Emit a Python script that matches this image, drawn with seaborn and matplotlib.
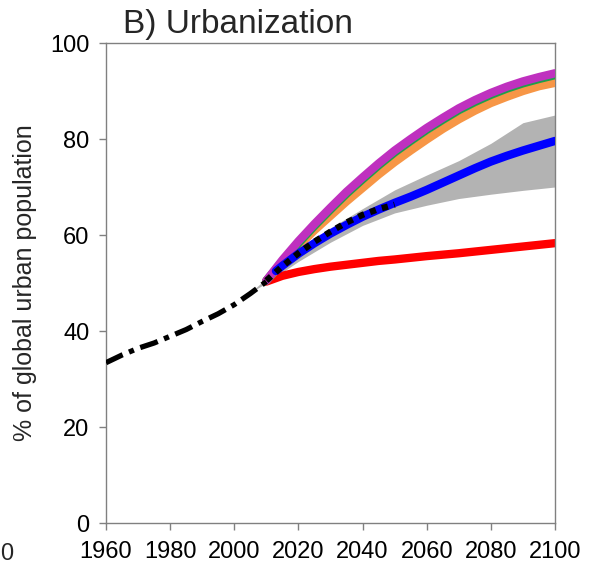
import matplotlib
matplotlib.use("Agg")
import matplotlib.pyplot as plt
import seaborn as sns
import pandas as pd

# ---- data ----
hist_years = [1960, 1965, 1970, 1975, 1980, 1985, 1990, 1995, 2000, 2005, 2010]
hist_vals = [33.4, 35.0, 36.4, 37.5, 38.9, 40.3, 42.0, 43.6, 45.5, 47.8, 50.3]

un_years = [2010, 2015, 2020, 2025, 2030, 2035, 2040, 2045, 2050]
un_vals = [50.5, 53.5, 56.2, 58.6, 60.7, 62.6, 64.2, 65.4, 66.3]

band_years = [2005, 2010, 2020, 2030, 2040, 2050, 2060, 2070, 2080, 2090, 2100]
band_upper = [48.0, 51.0, 56.5, 61.5, 65.5, 69.4, 72.5, 75.5, 79.1, 83.4, 85.0]
band_lower = [48.0, 50.0, 54.5, 58.5, 62.0, 64.6, 66.2, 67.6, 68.5, 69.3, 70.0]

proj_years = [2010, 2015, 2020, 2025, 2030, 2035, 2040, 2045, 2050, 2055,
              2060, 2065, 2070, 2075, 2080, 2085, 2090, 2095, 2100]
red_vals = [50.3, 51.5, 52.3, 52.9, 53.4, 53.8, 54.2, 54.6, 54.9, 55.25,
            55.6, 55.9, 56.2, 56.55, 56.9, 57.25, 57.6, 57.95, 58.3]
orange_vals = [50.5, 54.2, 57.7, 61.0, 64.0, 67.0, 69.8, 72.6, 75.2, 77.6,
               79.9, 82.1, 84.1, 85.9, 87.5, 88.8, 90.0, 91.0, 91.7]
green_vals = [50.5, 54.5, 58.3, 61.9, 65.3, 68.6, 71.6, 74.5, 77.2, 79.6,
              81.9, 84.0, 86.0, 87.7, 89.2, 90.5, 91.6, 92.5, 93.3]
purple_vals = [50.5, 54.8, 58.7, 62.3, 65.7, 69.0, 72.0, 74.9, 77.6, 80.0,
               82.3, 84.4, 86.4, 88.1, 89.6, 90.9, 92.0, 92.9, 93.7]

blue_years = [2013, 2015, 2020, 2025, 2030, 2035, 2040, 2045, 2050, 2055,
              2060, 2065, 2070, 2075, 2080, 2085, 2090, 2095, 2100]
blue_vals = [52.5, 53.6, 56.1, 58.3, 60.3, 62.1, 63.8, 65.3, 66.7, 68.0,
             69.4, 70.9, 72.4, 73.9, 75.3, 76.5, 77.6, 78.6, 79.6]

x_ticks = [1960, 1980, 2000, 2020, 2040, 2060, 2080, 2100]
y_ticks = [0, 20, 40, 60, 80, 100]

# ---- style ----
sns.set_style("white")
plt.rcParams["font.family"] = ["Liberation Sans", "DejaVu Sans"]

fig = plt.figure(figsize=(5.9, 5.65), dpi=100)
ax = fig.add_axes([106 / 590, 1 - 523 / 565, 449 / 590, 480 / 565])

ax.fill_between(band_years, band_lower, band_upper, color="#b3b3b3", linewidth=0, zorder=1)

proj = pd.DataFrame({"year": proj_years, "red": red_vals, "orange": orange_vals,
                     "green": green_vals, "purple": purple_vals})
lw = 6.0
sns.lineplot(data=proj, x="year", y="red", color="#ff0000", linewidth=lw, ax=ax, zorder=2)
sns.lineplot(data=proj, x="year", y="orange", color="#f79646", linewidth=lw, ax=ax, zorder=3)
sns.lineplot(data=proj, x="year", y="green", color="#1f9f4a", linewidth=lw, ax=ax, zorder=4)
sns.lineplot(data=proj, x="year", y="purple", color="#bf30bf", linewidth=lw, ax=ax, zorder=5)

blue = pd.DataFrame({"year": blue_years, "val": blue_vals})
sns.lineplot(data=blue, x="year", y="val", color="#0000ff", linewidth=lw, ax=ax, zorder=6)

hist = pd.DataFrame({"year": hist_years, "val": hist_vals})
sns.lineplot(data=hist, x="year", y="val", color="black", linewidth=3.8, ax=ax, zorder=7)
ax.lines[-1].set_dashes([3.5, 1.3, 1.0, 1.3])

un = pd.DataFrame({"year": un_years, "val": un_vals})
sns.lineplot(data=un, x="year", y="val", color="black", linewidth=4.5, ax=ax, zorder=8)
ax.lines[-1].set_dashes([1.0, 1.0])
ax.lines[-1].set_dash_capstyle("butt")

ax.set_xlim(1960, 2100)
ax.set_ylim(0, 100)
ax.set_xticks(x_ticks)
ax.set_yticks(y_ticks)
ax.set_xticklabels([str(t) for t in x_ticks], fontsize=17)
ax.set_yticklabels([str(t) for t in y_ticks], fontsize=17)
ax.tick_params(axis="both", direction="out", length=5, width=1, color="#808080",
               labelcolor="black", bottom=True, left=True)
ax.tick_params(axis="x", pad=8)
ax.tick_params(axis="y", pad=7)
for s in ax.spines.values():
    s.set_color("#808080")
    s.set_linewidth(1.0)
    s.set_visible(True)

ax.set_xlabel("")
ax.set_ylabel("% of global urban population", fontsize=18)
ax.yaxis.set_label_coords(-0.154, 0.5)

fig.text(123 / 590, 1 - 33 / 565, "B) Urbanization", fontsize=24, ha="left", va="baseline")
fig.text(0.5 / 590, 1 - 560 / 565, "0", fontsize=17, ha="left", va="baseline")

fig.savefig("out.png", dpi=100)
